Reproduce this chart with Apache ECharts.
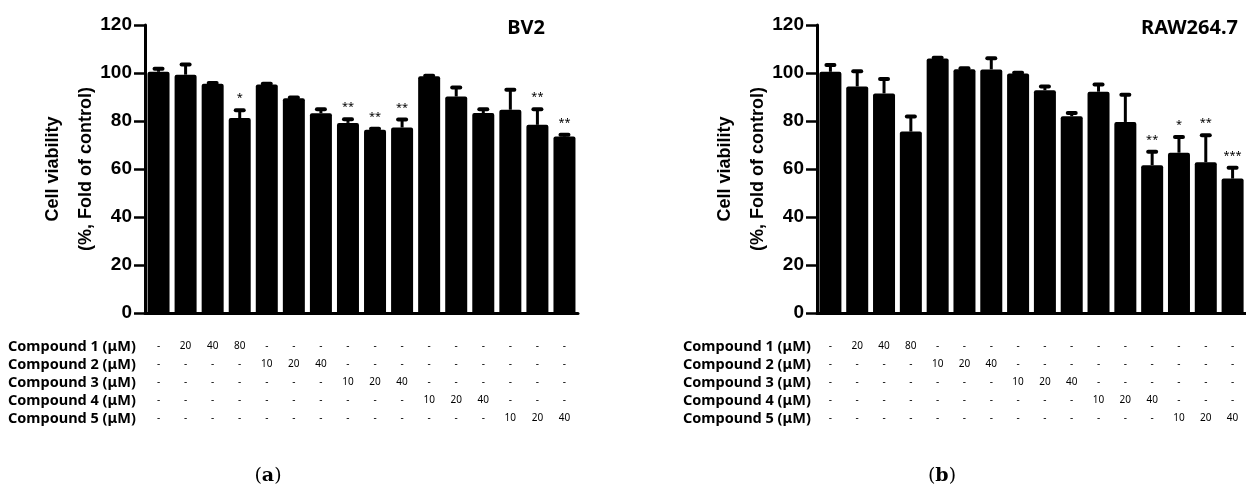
<!DOCTYPE html>
<html>
<head>
<meta charset="utf-8">
<script src="https://cdn.jsdelivr.net/npm/echarts/dist/echarts.min.js"></script>
<style>
html, body { margin: 0; padding: 0; background: #fff; }
#chart { width: 1246px; height: 486px; }
</style>
</head>
<body>
<div id="chart"></div>
<script>
// treatment groups (control + 5 compounds x doses)
var categories = ['Control', 'C1-20', 'C1-40', 'C1-80', 'C2-10', 'C2-20', 'C2-40',
    'C3-10', 'C3-20', 'C3-40', 'C4-10', 'C4-20', 'C4-40', 'C5-10', 'C5-20', 'C5-40'];
var groupCompound = [0, 1, 1, 1, 2, 2, 2, 3, 3, 3, 4, 4, 4, 5, 5, 5];
var groupDose = ['', '20', '40', '80', '10', '20', '40', '10', '20', '40', '10', '20', '40', '10', '20', '40'];
var compoundNames = ['Compound 1 (μM)', 'Compound 2 (μM)', 'Compound 3 (μM)', 'Compound 4 (μM)', 'Compound 5 (μM)'];

// (a) BV2
var bv2Mean = [100.5, 99.3, 95.5, 81.2, 95.2, 89.5, 83.2, 79.2, 76.4, 77.3, 98.6, 90.2, 83.3, 84.7, 78.4, 73.5];
var bv2Err = [1.3, 4.2, 0.3, 3.3, 0.3, 0.3, 1.7, 1.5, 0.4, 3.3, 0.3, 3.8, 1.6, 8.3, 6.5, 0.8];
var bv2Sig = ['', '', '', '*', '', '', '', '**', '**', '**', '', '', '', '', '**', '**'];

// (b) RAW264.7
var rawMean = [100.5, 94.4, 91.5, 75.6, 106, 101.6, 101.5, 99.8, 92.8, 82, 92.2, 79.6, 61.6, 66.8, 62.8, 56];
var rawErr = [2.8, 6.3, 6, 6.3, 0.4, 0.4, 4.6, 0.3, 1.6, 1.3, 3, 11.3, 5.6, 6.5, 11.3, 4.5];
var rawSig = ['', '', '', '', '', '', '', '', '', '', '', '', '**', '*', '**', '***'];

var yTicks = [0, 20, 40, 60, 80, 100, 120];

var myChart = echarts.init(document.getElementById('chart'));

function errorRenderer(sig){
    return function(params, api){
        var i = api.value(0);
        var m = api.value(1);
        var e = api.value(2);
        var base = api.coord([i, m]);
        var top = api.coord([i, m + e]);
        var children = [
            {type: 'line', shape: {x1: base[0], y1: base[1], x2: top[0], y2: top[1]},
                style: {stroke: '#000', lineWidth: 3}},
            {type: 'rect', shape: {x: top[0] - 6, y: top[1] - 2, width: 12, height: 4, r: 2},
                style: {fill: '#000'}}
        ];
        if (sig[i]) {
            children.push({type: 'text', style: {text: sig[i], x: top[0], y: top[1] - 12,
                fill: '#000', fontSize: 11, fontFamily: 'Noto Sans', align: 'center', verticalAlign: 'middle'}});
        }
        return {type: 'group', children: children};
    };
}

function makeXAxis(gi){
    return {
        type: 'category',
        gridIndex: gi,
        data: categories,
        axisLine: {lineStyle: {color: '#000', width: 3}},
        axisTick: {alignWithLabel: true, length: 9, lineStyle: {color: '#000', width: 2.5}},
        axisLabel: {
            interval: 0,
            hideOverlap: false,
            margin: 24,
            color: '#000',
            fontSize: 10,
            lineHeight: 18,
            fontFamily: 'Noto Sans',
            formatter: function(value, index){
                var lines = [];
                for (var k = 1; k <= compoundNames.length; k++) {
                    lines.push(groupCompound[index] === k ? groupDose[index] : '-');
                }
                return lines.join('\n');
            }
        }
    };
}

function makeYAxis(gi){
    return {
        type: 'value',
        gridIndex: gi,
        min: yTicks[0],
        max: yTicks[yTicks.length - 1],
        interval: 20,
        name: 'Cell viability\n(%, Fold of control)',
        nameLocation: 'middle',
        nameGap: 42,
        nameMoveOverlap: false,
        nameTextStyle: {color: '#000', fontSize: 18, fontWeight: 'bold', fontFamily: 'Liberation Sans', lineHeight: 33},
        splitLine: {show: false},
        axisLine: {show: true, lineStyle: {color: '#000', width: 3}},
        axisTick: {show: true, length: 11, lineStyle: {color: '#000', width: 2.5}},
        axisLabel: {color: '#000', fontSize: 19, fontWeight: 'bold', fontFamily: 'Liberation Sans', margin: 13}
    };
}

function barSeries(gi, mean){
    return {
        type: 'bar',
        xAxisIndex: gi,
        yAxisIndex: gi,
        data: mean,
        barWidth: 22,
        itemStyle: {color: '#000', borderRadius: [2, 2, 0, 0]},
        silent: true
    };
}

function errSeries(gi, mean, err, sig){
    var d = [];
    for (var i = 0; i < mean.length; i++) {
        d.push([i, mean[i], err[i]]);
    }
    return {
        type: 'custom',
        xAxisIndex: gi,
        yAxisIndex: gi,
        data: d,
        z: 5,
        silent: true,
        renderItem: errorRenderer(sig)
    };
}

function rowLabels(x){
    var out = [];
    for (var k = 0; k < compoundNames.length; k++) {
        out.push({
            type: 'text', x: x, y: 347 + k * 18,
            style: {text: compoundNames[k], fill: '#000', fontSize: 14.5, fontWeight: 'bold',
                fontFamily: 'Noto Sans', align: 'left', verticalAlign: 'middle'}
        });
    }
    return out;
}

var graphics = []
    .concat(rowLabels(8))
    .concat(rowLabels(683))
    .concat([
        {type: 'text', x: 545, y: 28, style: {text: 'BV2', fill: '#000', fontSize: 20, fontWeight: 'bold',
            fontFamily: 'Noto Sans', align: 'right', verticalAlign: 'middle'}},
        {type: 'text', x: 1238, y: 28, style: {text: 'RAW264.7', fill: '#000', fontSize: 20, fontWeight: 'bold',
            fontFamily: 'Noto Sans', align: 'right', verticalAlign: 'middle'}},
        {type: 'text', x: 268, y: 476, style: {text: '{n|(}{b|a}{n|)}', align: 'center', verticalAlign: 'middle',
            rich: {n: {fontSize: 19, fontFamily: 'DejaVu Serif', fill: '#000'},
                   b: {fontSize: 19, fontFamily: 'DejaVu Serif', fontWeight: 'bold', fill: '#000'}}}},
        {type: 'text', x: 942, y: 476, style: {text: '{n|(}{b|b}{n|)}', align: 'center', verticalAlign: 'middle',
            rich: {n: {fontSize: 19, fontFamily: 'DejaVu Serif', fill: '#000'},
                   b: {fontSize: 19, fontFamily: 'DejaVu Serif', fontWeight: 'bold', fill: '#000'}}}}
    ]);

var option = {
    animation: false,
    backgroundColor: '#fff',
    grid: [
        {left: 145, top: 25, width: 433, height: 288},
        {left: 817, top: 25, width: 433, height: 288}
    ],
    xAxis: [makeXAxis(0), makeXAxis(1)],
    yAxis: [makeYAxis(0), makeYAxis(1)],
    series: [
        barSeries(0, bv2Mean),
        errSeries(0, bv2Mean, bv2Err, bv2Sig),
        barSeries(1, rawMean),
        errSeries(1, rawMean, rawErr, rawSig)
    ],
    graphic: graphics
};
myChart.setOption(option);
</script>
</body>
</html>
